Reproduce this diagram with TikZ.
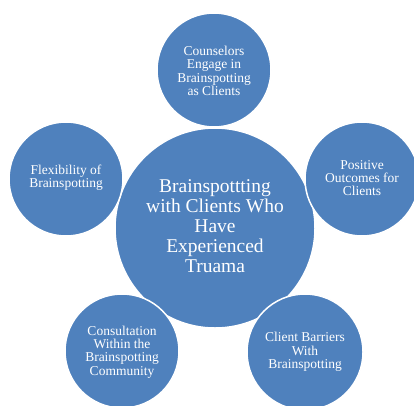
\documentclass[tikz,border=0pt]{standalone}
\usepackage{fontspec}
\setmainfont{Liberation Serif}
\definecolor{smblue}{HTML}{4F81BD}
\begin{document}
\begin{tikzpicture}[x=1pt,y=-1pt,
  bubble/.style={circle,fill=smblue,draw=white,line width=1.5pt,inner sep=0pt,minimum size=#1},
  smalltxt/.style={text=white,align=center,font=\fontsize{13.5}{13.3}\selectfont},
  bigtxt/.style={text=white,align=center,font=\fontsize{19.5}{20}\selectfont}]
\useasboundingbox (0,0) rectangle (414,405);
\clip (0,0) rectangle (414,405);
\node[bubble=200pt] (c) at (215,228) {};
\node[bubble=114pt] (t) at (214,70) {};
\node[bubble=114pt] (r) at (362,179) {};
\node[bubble=114pt] (l) at (66,179) {};
\node[bubble=114pt] (bl) at (122,351) {};
\node[bubble=116pt] (br) at (305,352) {};
\node[bigtxt] (ct) at (215,226) {Brainspottting\\with Clients Who\\Have\\Experienced\\Truama};
\node[smalltxt] (tt) at (214,71) {Counselors\\Engage in\\Brainspotting\\as Clients};
\node[smalltxt] (rt) at (362,178) {Positive\\Outcomes for\\Clients};
\node[smalltxt] (lt) at (66,178) {Flexibility of\\Brainspotting};
\node[smalltxt] (blt) at (122,352) {Consultation\\Within the\\Brainspotting\\Community};
\node[smalltxt] (brt) at (305,352) {Client Barriers\\With\\Brainspotting};
\end{tikzpicture}
\end{document}
